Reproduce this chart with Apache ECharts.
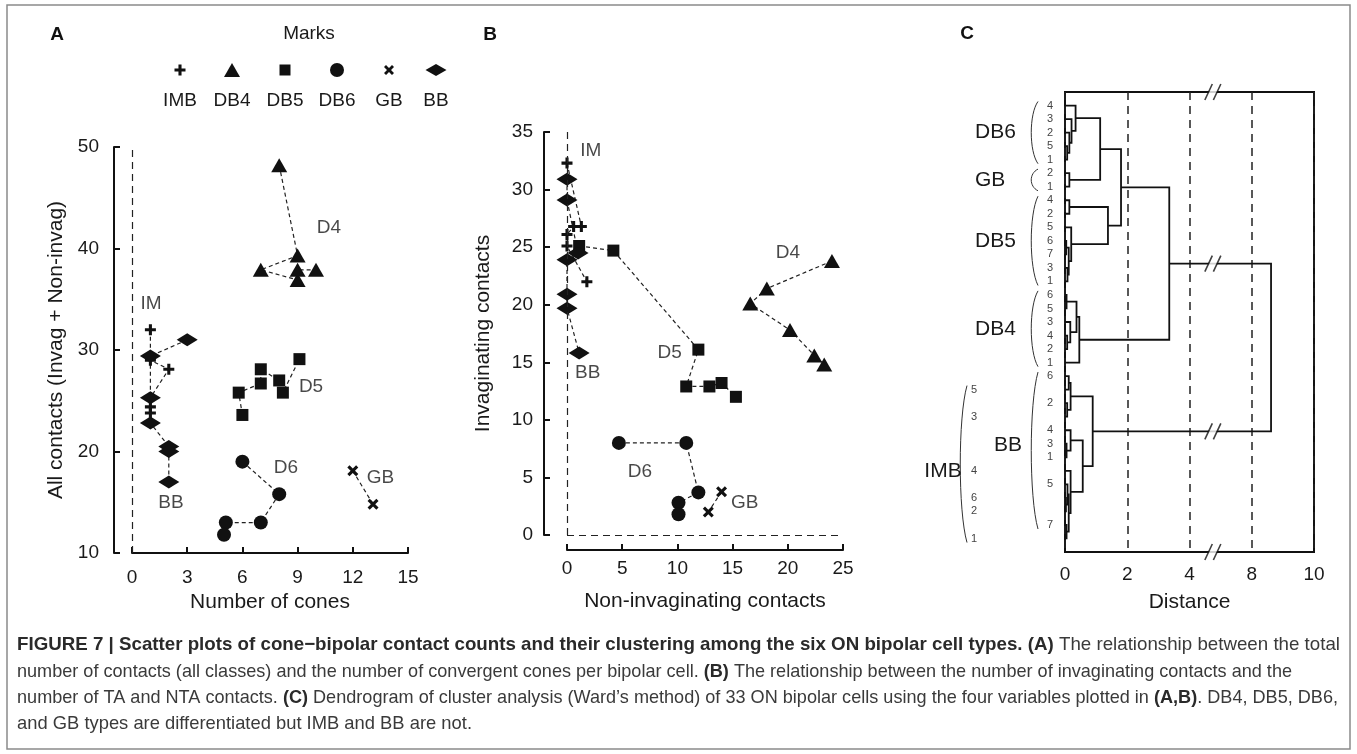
<!DOCTYPE html>
<html>
<head>
<meta charset="utf-8">
<script src="https://cdn.jsdelivr.net/npm/echarts@6/dist/echarts.min.js"></script>
<style>
html, body { margin: 0; padding: 0; background: #fff; }
#chart { width: 1357px; height: 754px; }
</style>
</head>
<body>
<div id="chart"></div>
<script>
// ---- panel A: number of cones (x) vs all contacts (y)
const aIMB = [[1, 32], [1, 29], [2, 28.1], [1, 25.3], [1, 24.4], [1, 23.8]]
const aDB4 = [[8, 48.2], [9, 39.3], [7, 37.9], [9, 36.9], [9, 37.9], [10, 37.9]]
const aDB5 = [[6, 23.6], [5.8, 25.8], [7, 26.7], [7, 28.1], [8, 27], [8.2, 25.8], [9.1, 29.1]]
const aDB6 = [[6, 19], [8, 15.8], [7, 13], [5.1, 13], [5, 11.8]]
const aGB = [[12, 18.1], [13.1, 14.8]]
const aBB = [[3, 31], [1, 29.4], [1, 25.3], [1, 22.8], [2, 20.5], [2, 20], [2, 17]]
const aNotes = [['IM', 1.03, 34.6], ['D4', 10.7, 42], ['D5', 9.73, 26.4], ['BB', 2.12, 14.9], ['D6', 8.37, 18.4], ['GB', 13.5, 17.4]]

// ---- panel B: non-invaginating (x) vs invaginating contacts (y)
const bIMB = [[0, 32.3], [1.3, 26.8], [0.6, 26.8], [0, 26.1], [0, 25.1], [1.8, 22]]
const bDB4 = [[24, 23.8], [18.1, 21.4], [16.6, 20.1], [20.2, 17.8], [22.4, 15.6], [23.3, 14.8]]
const bDB5 = [[1.1, 25.1], [4.2, 24.7], [11.9, 16.1], [10.8, 12.9], [12.9, 12.9], [14, 13.2], [15.3, 12]]
const bDB6 = [[4.7, 8], [10.8, 8], [11.9, 3.7], [10.1, 2.8], [10.1, 1.8]]
const bGB = [[14, 3.75], [12.8, 2]]
const bBB = [[0, 30.9], [0, 29.1], [1, 24.5], [0, 23.9], [0, 20.9], [0, 19.7], [1.1, 15.8]]
const bNotes = [['IM', 2.15, 33.4], ['D4', 20, 24.5], ['D5', 9.3, 15.8], ['BB', 1.87, 14.1], ['D6', 6.6, 5.46], ['GB', 16.1, 2.77]]

// ---- panel C: dendrogram (leaves top to bottom, merges like a linkage table)
const leafGroup = ['DB6', 'DB6', 'DB6', 'DB6', 'DB6', 'GB', 'GB',
  'DB5', 'DB5', 'DB5', 'DB5', 'DB5', 'DB5', 'DB5',
  'DB4', 'DB4', 'DB4', 'DB4', 'DB4', 'DB4',
  'BB', 'IMB', 'BB', 'IMB', 'BB', 'BB', 'BB', 'IMB', 'BB', 'IMB', 'IMB', 'BB', 'IMB']
const leafNum = ['4', '3', '2', '5', '1', '2', '1',
  '4', '2', '5', '6', '7', '3', '1',
  '6', '5', '3', '4', '2', '1',
  '6', '5', '2', '3', '4', '3', '1', '4', '5', '6', '2', '7', '1']
// [child a, child b, distance]; ids >= 33 point to earlier merges
const merges = [
  [3, 4, 0.07], [2, 33, 0.14], [1, 34, 0.21], [0, 35, 0.34],
  [5, 6, 0.14], [36, 37, 1.13],
  [7, 8, 0.14], [10, 11, 0.04], [12, 13, 0.08], [40, 41, 0.12], [9, 42, 0.2], [39, 43, 1.38],
  [38, 44, 1.8],
  [14, 15, 0.05], [17, 18, 0.07], [16, 47, 0.17], [46, 48, 0.37], [49, 19, 0.46],
  [45, 50, 3.35],
  [20, 21, 0.12], [22, 23, 0.07], [52, 53, 0.18],
  [25, 26, 0.05], [24, 55, 0.18],
  [29, 30, 0.03], [28, 57, 0.08], [31, 32, 0.05], [58, 59, 0.12], [27, 60, 0.18],
  [56, 61, 0.57], [54, 62, 0.89],
  [51, 63, 8.62]
]
const distTicks = ['0', '2', '4', '8', '10']
const breakAt = 5.5

// broken distance axis: 0-4 and 8-10 linear, 4-8 squeezed into one step
const pos = d => d <= 4 ? d / 2 : d <= 8 ? 2 + (d - 4) / 4 : 3 + (d - 8) / 2

const nLeaf = leafNum.length
const nodeY = leafNum.map((_, i) => i)
const nodeH = leafNum.map(() => 0)
const links = merges.map(([a, b, h], k) => {
  nodeY[nLeaf + k] = (nodeY[a] + nodeY[b]) / 2
  nodeH[nLeaf + k] = h
  return [pos(nodeH[a]), nodeY[a], pos(h), nodeY[a], pos(h), nodeY[b], pos(nodeH[b]), nodeY[b]]
})
const root = merges[merges.length - 1]
const breakMarks = [-1, nodeY[root[0]], nodeY[root[1]], nLeaf].map(y => [pos(breakAt), y])

const groupNames = ['DB6', 'GB', 'DB5', 'DB4', 'BB', 'IMB']
const groupSpan = groupNames.map(g => {
  const idx = leafGroup.map((x, i) => x === g ? i : -1).filter(i => i >= 0)
  return [idx[0], idx[idx.length - 1], g === 'IMB' ? 1 : 0, idx.reduce((s, v) => s + v, 0) / idx.length]
})

// ---- marks (outlines in a 10-unit box)
const FONT = 'Liberation Sans'
const INK = '#111'
const SH_PLUS = [[3.6, 0], [6.4, 0], [6.4, 3.6], [10, 3.6], [10, 6.4], [6.4, 6.4], [6.4, 10], [3.6, 10], [3.6, 6.4], [0, 6.4], [0, 3.6], [3.6, 3.6]]
const SH_CROSS = [[0, 2], [2, 0], [5, 3], [8, 0], [10, 2], [7, 5], [10, 8], [8, 10], [5, 7], [2, 10], [0, 8], [3, 5]]
const SH_TRI = [[5, 0], [10, 10], [0, 10]]
const SH_SQ = [[0, 0], [10, 0], [10, 10], [0, 10]]
const SH_DIA = [[0, 5], [5, 0], [10, 5], [5, 10]]
const toPath = pts => 'path://M' + pts.map(p => p.join(',')).join('L') + 'Z'

const marks = {
  IMB: { symbol: toPath(SH_PLUS), size: 11, shape: SH_PLUS },
  DB4: { symbol: toPath(SH_TRI), size: [16, 14], shape: SH_TRI },
  DB5: { symbol: toPath(SH_SQ), size: 12, shape: SH_SQ },
  DB6: { symbol: 'circle', size: 14, shape: null },
  GB: { symbol: toPath(SH_CROSS), size: 11, shape: SH_CROSS },
  BB: { symbol: toPath(SH_DIA), size: [21, 13], shape: SH_DIA }
}

const groupSeries = (name, data, gi) => ({
  name,
  type: 'line',
  xAxisIndex: gi,
  yAxisIndex: gi,
  data,
  symbol: marks[name].symbol,
  symbolSize: marks[name].size,
  showAllSymbol: true,
  itemStyle: { color: INK },
  lineStyle: { color: '#222', width: 1.2, type: [4, 3] },
  emphasis: { disabled: true },
  z: 4
})

const noteSeries = (notes, gi) => ({
  type: 'scatter',
  xAxisIndex: gi,
  yAxisIndex: gi,
  symbolSize: 1,
  itemStyle: { color: 'rgba(0,0,0,0)' },
  data: notes.map(([n, x, y]) => ({ name: n, value: [x, y] })),
  label: { show: true, position: 'inside', formatter: '{b}', color: '#1a1a1a', fontSize: 19, fontFamily: FONT },
  emphasis: { disabled: true },
  z: 5
})

const axisCommon = {
  axisLine: { show: true, onZero: false, lineStyle: { color: INK, width: 2 } },
  axisTick: { show: true, inside: true, length: 6, lineStyle: { color: INK, width: 2 } },
  splitLine: { show: false },
  axisLabel: { color: '#1a1a1a', fontSize: 19, fontFamily: FONT },
  nameTextStyle: { color: '#1a1a1a', fontSize: 21, fontFamily: FONT },
  nameLocation: 'middle'
}

const dashLine = { color: '#222', width: 1.2, type: [7, 5] }

// ---- legend ("Marks") drawn as graphics
const legendX = [180, 232, 285, 337, 389, 436]
const legendItems = ['IMB', 'DB4', 'DB5', 'DB6', 'GB', 'BB']
const legendSizes = [[11, 11], [16, 14], [11, 11], [14, 14], [10, 10], [21, 12]]
const legendGraphics = []
legendItems.forEach((name, i) => {
  const [w, h] = legendSizes[i]
  const cx = legendX[i], cy = 70
  const sh = marks[name].shape
  if (sh) {
    legendGraphics.push({ type: 'polygon', shape: { points: sh.map(([px, py]) => [cx - w / 2 + px * w / 10, cy - h / 2 + py * h / 10]) }, style: { fill: INK } })
  } else {
    legendGraphics.push({ type: 'circle', shape: { cx, cy, r: w / 2 }, style: { fill: INK } })
  }
  legendGraphics.push({ type: 'text', x: cx, y: 101, style: { text: name, fontSize: 19, fontFamily: FONT, fill: '#1a1a1a', align: 'center', verticalAlign: 'middle' } })
})

// ---- caption (condensed by scaling each line to its width in the figure)
const capParts = [
  [[1, 'FIGURE 7 | Scatter plots of cone\u2212bipolar contact counts and their clustering among the six ON bipolar cell types. (A)'], [0, ' The relationship between the total']],
  [[0, 'number of contacts (all classes) and the number of convergent cones per bipolar cell. '], [1, '(B)'], [0, ' The relationship between the number of invaginating contacts and the']],
  [[0, 'number of TA and NTA contacts. '], [1, '(C)'], [0, ' Dendrogram of cluster analysis (Ward\u2019s method) of 33 ON bipolar cells using the four variables plotted in '], [1, '(A,B)'], [0, '. DB4, DB5, DB6,']],
  [[0, 'and GB types are differentiated but IMB and BB are not.']]
]
const capWidth = [1323, 1275, 1321, 455]
const capSize = 19
const mctx = document.createElement('canvas').getContext('2d')
const measure = parts => parts.reduce((w, [b, t]) => {
  mctx.font = (b ? 'bold ' : '') + capSize + 'px "' + FONT + '"'
  return w + mctx.measureText(t).width
}, 0)
const capGraphics = capParts.map((parts, i) => ({
  type: 'text',
  x: 17,
  y: 645 + i * 26.3,
  scaleX: capWidth[i] / measure(parts),
  style: {
    text: parts.map(([b, t]) => '{' + (b ? 'b' : 'n') + '|' + t + '}').join(''),
    verticalAlign: 'middle',
    rich: {
      b: { fontWeight: 'bold', fontSize: capSize, fontFamily: FONT, fill: '#2a2a2a' },
      n: { fontSize: capSize, fontFamily: FONT, fill: '#3a3a3a' }
    }
  }
}))

const chart = echarts.init(document.getElementById('chart'), null, { renderer: 'canvas' })

const option = {
  animation: false,
  backgroundColor: '#fff',
  textStyle: { fontFamily: FONT },
  grid: [
    { left: 132, top: 147, width: 276, height: 406, containLabel: false, outerBoundsMode: 'none' },
    { left: 567, top: 132, width: 276, height: 403, containLabel: false, outerBoundsMode: 'none' },
    { left: 1065, top: 92, width: 249, height: 460, containLabel: false, outerBoundsMode: 'none', show: true, borderColor: INK, borderWidth: 2 }
  ],
  xAxis: [
    { ...axisCommon, type: 'value', gridIndex: 0, min: 0, max: 15, interval: 3,
      axisLabel: { ...axisCommon.axisLabel, margin: 15 }, name: 'Number of cones', nameGap: 36 },
    { ...axisCommon, type: 'value', gridIndex: 1, min: 0, max: 25, interval: 5, offset: 15,
      axisLabel: { ...axisCommon.axisLabel, margin: 9 }, name: 'Non-invaginating contacts', nameGap: 41 },
    { ...axisCommon, type: 'value', gridIndex: 2, min: 0, max: 4, interval: 1,
      axisTick: { show: false },
      splitLine: { show: true, lineStyle: { color: '#222', width: 1.5, type: [8, 6] } },
      axisLabel: { ...axisCommon.axisLabel, margin: 13, formatter: v => distTicks[v] },
      name: 'Distance', nameGap: 40 }
  ],
  yAxis: [
    { ...axisCommon, type: 'value', gridIndex: 0, min: 10, max: 50, interval: 10, offset: 18,
      axisLabel: { ...axisCommon.axisLabel, margin: 15 }, name: 'All contacts (Invag + Non-invag)', nameGap: 47 },
    { ...axisCommon, type: 'value', gridIndex: 1, min: 0, max: 35, interval: 5, offset: 23,
      axisLabel: { ...axisCommon.axisLabel, margin: 11 }, name: 'Invaginating contacts', nameGap: 50 },
    { type: 'value', gridIndex: 2, min: -1, max: nLeaf, inverse: true, show: false }
  ],
  graphic: [
    { type: 'rect', shape: { x: 7, y: 5, width: 1343, height: 744 }, style: { fill: 'none', stroke: '#8a8a8a', lineWidth: 1.5 }, z: -1 },
    { type: 'text', x: 57, y: 35, style: { text: 'A', fontSize: 19, fontWeight: 'bold', fontFamily: FONT, fill: INK, align: 'center', verticalAlign: 'middle' } },
    { type: 'text', x: 490, y: 35, style: { text: 'B', fontSize: 19, fontWeight: 'bold', fontFamily: FONT, fill: INK, align: 'center', verticalAlign: 'middle' } },
    { type: 'text', x: 967, y: 34, style: { text: 'C', fontSize: 19, fontWeight: 'bold', fontFamily: FONT, fill: INK, align: 'center', verticalAlign: 'middle' } },
    { type: 'text', x: 309, y: 34, style: { text: 'Marks', fontSize: 19, fontFamily: FONT, fill: '#1a1a1a', align: 'center', verticalAlign: 'middle' } },
    ...legendGraphics,
    ...capGraphics
  ],
  series: [
    // panel A
    { ...groupSeries('IMB', aIMB, 0),
      markLine: { silent: true, symbol: 'none', label: { show: false }, lineStyle: dashLine, data: [{ xAxis: 0 }] } },
    groupSeries('DB4', aDB4, 0),
    groupSeries('DB5', aDB5, 0),
    groupSeries('DB6', aDB6, 0),
    groupSeries('GB', aGB, 0),
    groupSeries('BB', aBB, 0),
    noteSeries(aNotes, 0),
    // panel B
    { ...groupSeries('IMB', bIMB, 1),
      markLine: { silent: true, symbol: 'none', label: { show: false }, lineStyle: dashLine,
        data: [{ xAxis: 0 }, { yAxis: 0 }] } },
    groupSeries('DB4', bDB4, 1),
    groupSeries('DB5', bDB5, 1),
    groupSeries('DB6', bDB6, 1),
    groupSeries('GB', bGB, 1),
    groupSeries('BB', bBB, 1),
    noteSeries(bNotes, 1),
    // panel C: dendrogram links
    {
      type: 'custom',
      xAxisIndex: 2,
      yAxisIndex: 2,
      data: links,
      dimensions: ['x1', 'y1', 'x2', 'y2', 'x3', 'y3', 'x4', 'y4'],
      encode: { x: [0, 2, 4, 6], y: [1, 3, 5, 7] },
      clip: false,
      renderItem: (params, api) => ({
        type: 'polyline',
        shape: { points: [0, 2, 4, 6].map(i => api.coord([api.value(i), api.value(i + 1)])) },
        style: { stroke: INK, lineWidth: 1.8, fill: null }
      }),
      z: 3
    },
    // break marks on the long links
    {
      type: 'scatter', xAxisIndex: 2, yAxisIndex: 2, clip: false,
      data: breakMarks, symbol: 'path://M0,14L7,0L15,0L8,14Z', symbolSize: [15, 15],
      itemStyle: { color: '#fff' }, emphasis: { disabled: true }, z: 6
    },
    {
      type: 'scatter', xAxisIndex: 2, yAxisIndex: 2, clip: false,
      data: breakMarks, symbol: 'path://M0,14L7,0M8,14L15,0', symbolSize: [16, 16],
      itemStyle: { color: 'rgba(0,0,0,0)', borderColor: INK, borderWidth: 1.6 }, emphasis: { disabled: true }, z: 7
    },
    // leaf numbers
    {
      type: 'custom', xAxisIndex: 2, yAxisIndex: 2, clip: false,
      data: leafNum.map((_, i) => [0, i]),
      renderItem: (params, api) => {
        const p = api.coord([api.value(0), api.value(1)])
        const imb = leafGroup[params.dataIndex] === 'IMB'
        return { type: 'text', x: p[0] + (imb ? -91 : -15), y: p[1],
          style: { text: leafNum[params.dataIndex], fontSize: 11, fontFamily: FONT, fill: '#444', align: 'center', verticalAlign: 'middle' } }
      }
    },
    // group brackets and names
    {
      type: 'custom', xAxisIndex: 2, yAxisIndex: 2, clip: false,
      data: groupSpan,
      renderItem: (params, api) => {
        const top = api.coord([0, api.value(0) - 0.3])
        const bot = api.coord([0, api.value(1) + 0.3])
        const mid = api.coord([0, api.value(3)])
        const outer = api.value(2) === 1
        const xr = top[0] + (outer ? -98 : -27)
        const hgt = bot[1] - top[1]
        const name = groupNames[params.dataIndex]
        const tx = outer ? top[0] - 122 : name === 'BB' ? top[0] - 71 : top[0] - 90
        return {
          type: 'group',
          children: [
            { type: 'bezierCurve',
              shape: { x1: xr, y1: top[1], x2: xr, y2: bot[1], cpx1: xr - 9, cpy1: top[1] + hgt * 0.2, cpx2: xr - 9, cpy2: bot[1] - hgt * 0.2 },
              style: { stroke: '#333', lineWidth: 1, fill: null } },
            { type: 'text', x: tx, y: mid[1],
              style: { text: name, fontSize: 21, fontFamily: FONT, fill: '#1a1a1a', align: outer ? 'center' : 'left', verticalAlign: 'middle' } }
          ]
        }
      }
    }
  ]
}

chart.setOption(option)
</script>
</body>
</html>
